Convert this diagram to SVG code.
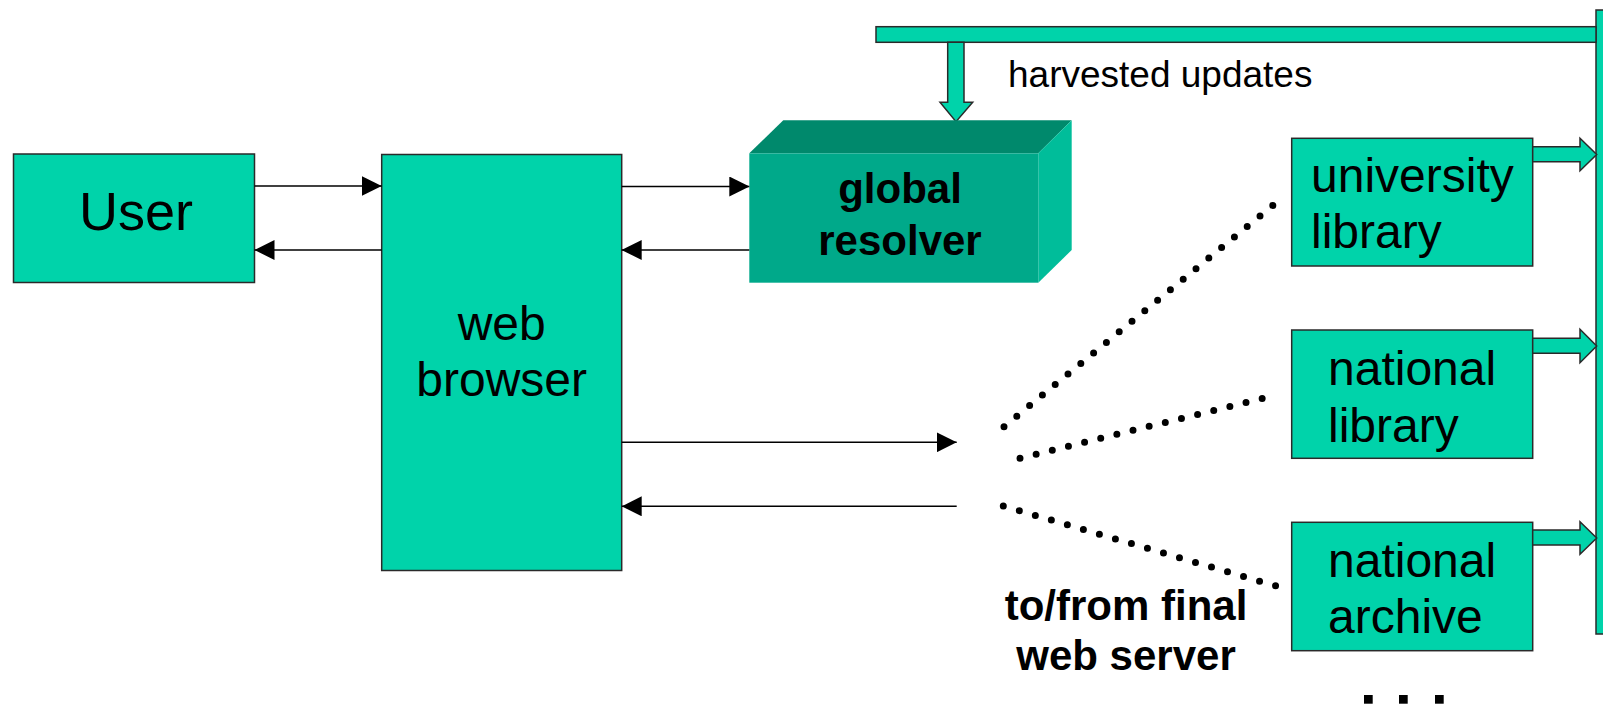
<svg xmlns="http://www.w3.org/2000/svg" width="1603" height="706" viewBox="0 0 1603 706">
<style>
.box{fill:#00D3AA;stroke:#2a2a2a;stroke-width:1.5}
.lbl{font-family:"Liberation Sans",Arial,sans-serif;fill:#000}
.big{font-size:48px}
.bold{font-weight:bold;font-size:42px}
.conn{stroke:#000;stroke-width:1.5;fill:none}
.dots{stroke:#000;stroke-width:7;stroke-linecap:round;fill:none}
</style>
<defs>
<marker id="ah" markerUnits="userSpaceOnUse" markerWidth="20" markerHeight="20" refX="20" refY="10" orient="auto">
<path d="M0,0 L20,10 L0,20 Z" fill="#000"/>
</marker>
</defs>
<rect width="1603" height="706" fill="#fff"/>

<g id="harvest-bus">
<rect class="box" x="1596" y="10" width="24" height="624"/>
<rect class="box" x="876" y="26.7" width="720" height="15.6"/>
<path class="box" d="M947.7,42.3 V102.3 H940 L956,121.7 L972.7,102.3 H964 V42.3 Z"/>
<text class="lbl" x="1008" y="87" font-size="37">harvested updates</text>
</g>

<g id="user">
<rect class="box" x="13.5" y="154" width="241" height="128.5"/>
<text class="lbl" x="136" y="230" font-size="54" text-anchor="middle">User</text>
</g>

<g id="web-browser">
<rect class="box" x="381.7" y="154.5" width="240" height="416"/>
<text class="lbl big" x="501.7" y="340" text-anchor="middle">web</text>
<text class="lbl big" x="501.7" y="396" text-anchor="middle">browser</text>
</g>

<g id="global-resolver">
<polygon points="749.3,153.3 783.3,120.3 1071.7,120.3 1038.3,153.3" fill="#00896C"/>
<polygon points="1038.3,153.3 1071.7,120.3 1071.7,250 1038.3,282.7" fill="#00BD9A"/>
<rect x="749.3" y="153.3" width="289" height="129.4" fill="#00A98A"/>
<text class="lbl bold" x="900" y="203" text-anchor="middle">global</text>
<text class="lbl bold" x="900" y="255" text-anchor="middle">resolver</text>
</g>

<g id="university-library">
<rect class="box" x="1291.7" y="138.3" width="241" height="127.7"/>
<text class="lbl big" x="1311" y="191.7">university</text>
<text class="lbl big" x="1311" y="248">library</text>
<path class="box" d="M1532.7,146.7 H1580 V138.3 L1596.7,154.5 L1580,170.7 V161.7 H1532.7 Z"/>
</g>

<g id="national-library">
<rect class="box" x="1291.7" y="330" width="241" height="128.3"/>
<text class="lbl big" x="1328" y="385">national</text>
<text class="lbl big" x="1328" y="441.7">library</text>
<path class="box" d="M1532.7,338.3 H1580 V329.3 L1596.7,346 L1580,362.7 V353.3 H1532.7 Z"/>
</g>

<g id="national-archive">
<rect class="box" x="1291.7" y="522.3" width="241" height="128.4"/>
<text class="lbl big" x="1328" y="576.7">national</text>
<text class="lbl big" x="1328" y="633.3">archive</text>
<path class="box" d="M1532.7,530 H1580 V521.7 L1596.7,538 L1580,554.3 V545 H1532.7 Z"/>
</g>

<g id="final-web-server">
<text class="lbl" x="1126" y="620" font-size="42" font-weight="bold" text-anchor="middle">to/from final</text>
<text class="lbl" x="1126" y="670" font-size="42" font-weight="bold" text-anchor="middle">web server</text>
</g>

<g id="connectors">
<line class="conn" x1="254.5" y1="186" x2="381.7" y2="186" marker-end="url(#ah)"/>
<line class="conn" x1="381.7" y1="250" x2="254.5" y2="250" marker-end="url(#ah)"/>
<line class="conn" x1="621.7" y1="186.5" x2="749.3" y2="186.5" marker-end="url(#ah)"/>
<line class="conn" x1="749.3" y1="250" x2="621.7" y2="250" marker-end="url(#ah)"/>
<line class="conn" x1="621.7" y1="442.3" x2="956.7" y2="442.3" marker-end="url(#ah)"/>
<line class="conn" x1="956.7" y1="506.3" x2="621.7" y2="506.3" marker-end="url(#ah)"/>
<line class="dots" x1="1004" y1="426.7" x2="1273.3" y2="205" stroke-dasharray="0 16.58"/>
<line class="dots" x1="1020" y1="458.3" x2="1262.7" y2="398.3" stroke-dasharray="0 16.63"/>
<line class="dots" x1="1003.3" y1="506" x2="1276" y2="586" stroke-dasharray="0 16.69"/>
</g>

<g id="more-dots">
<rect x="1364" y="695" width="8.7" height="8.7" fill="#000"/>
<rect x="1399" y="695" width="8.7" height="8.7" fill="#000"/>
<rect x="1435" y="695" width="8.7" height="8.7" fill="#000"/>
</g>
</svg>
